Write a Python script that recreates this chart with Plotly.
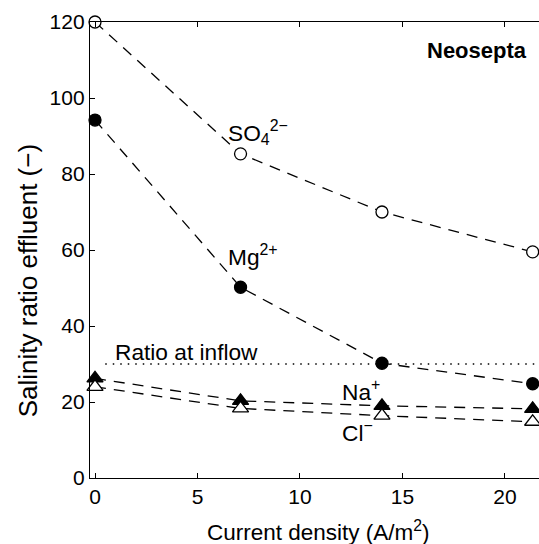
import plotly.graph_objects as go

current = [0, 7.1, 14, 21.35]
so4 = [120, 85.3, 70, 59.5]
mg = [94.2, 50.2, 30.2, 24.8]
na = [26.2, 20.3, 19.0, 18.2]
cl = [24.0, 18.3, 16.4, 14.8]
inflow_ratio = 30

FONT = "Liberation Sans, Arial, sans-serif"
fig = go.Figure()

dash = "11px,8px"
lw = 1.3

def add(y, symbol, color_fill, size):
    fig.add_trace(go.Scatter(
        x=current, y=y, mode="lines+markers", cliponaxis=False,
        line=dict(color="black", width=lw, dash=dash),
        marker=dict(symbol=symbol, size=size,
                    color=color_fill, line=dict(color="black", width=1.3)),
        showlegend=False))

add(so4, "circle", "white", 12)
add(mg, "circle", "black", 12)
add(na, "triangle-up", "black", 14)
add(cl, "triangle-up", "white", 14)

fig.add_shape(type="line", xref="x", yref="y", x0=0.5, x1=21.66,
              y0=inflow_ratio, y1=inflow_ratio,
              line=dict(color="black", width=1.3, dash="1.5px,6px"))

ann = dict(showarrow=False, font=dict(family=FONT, size=22.7, color="black"),
           xref="x", yref="y", xanchor="left", yanchor="middle")
fig.add_annotation(x=6.4, y=91, text="SO<sub>4</sub><sup>2−</sup>", **ann)
fig.add_annotation(x=6.4, y=58.5, text="Mg<sup>2+</sup>", **ann)
fig.add_annotation(x=0.9, y=33.2, text="Ratio at inflow", **ann)
fig.add_annotation(x=11.95, y=23, text="Na<sup>+</sup>", **ann)
fig.add_annotation(x=11.95, y=12.2, text="Cl<sup>−</sup>", **ann)
fig.add_annotation(x=21.15, y=112.6, text="<b>Neosepta</b>",
                   **{**ann, "xanchor": "right", "font": dict(family=FONT, size=22, color="black")})

# axis titles
fig.add_annotation(x=0.51, y=-0.116, xref="paper", yref="paper",
                   text="Current density (A/m<sup>2</sup>)", showarrow=False,
                   xanchor="center", yanchor="middle",
                   font=dict(family=FONT, size=22.5, color="black"))
fig.add_annotation(x=-0.1375, y=0.432, xref="paper", yref="paper",
                   text="Salinity ratio effluent (−)", showarrow=False,
                   textangle=-90, xanchor="center", yanchor="middle",
                   font=dict(family=FONT, size=26, color="black"))

fig.update_layout(
    width=539, height=544,
    margin=dict(l=90, r=0, t=22, b=66),
    plot_bgcolor="white", paper_bgcolor="white",
    font=dict(family=FONT, size=21, color="black"),
    xaxis=dict(range=[-0.244, 21.66], tickvals=[0, 5, 10, 15, 20],
               showline=True, linecolor="black", linewidth=1.3, mirror="ticks",
               ticks="inside", ticklen=5, tickcolor="black", showgrid=False,
               zeroline=False),
    yaxis=dict(range=[0, 120], tickvals=[0, 20, 40, 60, 80, 100, 120],
               showline=True, linecolor="black", linewidth=1.3,
               ticks="inside", ticklen=5, tickcolor="black", showgrid=False,
               zeroline=False),
)

fig.write_html("out.html", config={"displayModeBar": False},
               post_script="document.body.style.margin='0';document.body.style.overflow='hidden';")
